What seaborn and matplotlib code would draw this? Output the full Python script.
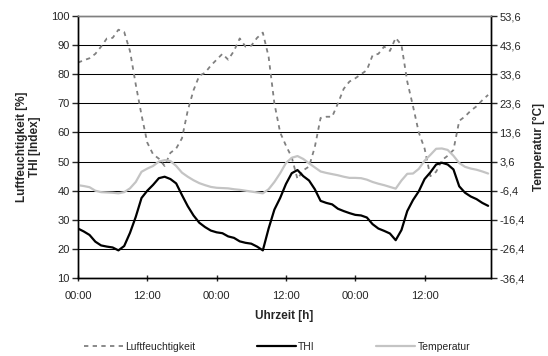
import numpy as np
import matplotlib
matplotlib.use("Agg")
import matplotlib.pyplot as plt
import seaborn as sns

sns.set_style("white")
plt.rcParams['font.family'] = ['Liberation Sans', 'DejaVu Sans']

# hourly values over three days
hours = np.arange(72)

humidity = [84.0, 84.8, 85.5, 87.0, 89.5, 92.3, 92.5, 95.3, 94.5, 88.0,
            76.5, 66.0, 56.5, 52.5, 51.0, 48.5, 53.0, 54.5, 58.0, 67.5,
            74.5, 79.5, 80.5, 83.0, 85.0, 87.0, 85.0, 88.0, 92.3, 89.5,
            89.8, 92.5, 94.3, 86.0, 70.0, 60.0, 55.5, 51.5, 44.0, 47.0,
            48.3, 55.0, 65.0, 65.4, 65.4, 70.0, 75.0, 77.5, 78.6, 80.0,
            81.4, 86.5, 87.0, 89.5, 88.0, 92.5, 90.0, 77.5, 69.0, 60.0,
            54.5, 45.0, 46.5, 50.5, 52.0, 54.0, 64.0, 65.5, 67.5, 69.0,
            71.1, 72.9]

thi = [27.0, 26.0, 24.8, 22.5, 21.2, 20.8, 20.5, 19.5, 21.0, 25.5,
       31.0, 37.5, 40.0, 42.0, 44.3, 44.8, 44.0, 42.5, 38.5, 34.7,
       31.5, 29.0, 27.5, 26.3, 25.7, 25.4, 24.3, 23.8, 22.6, 22.1,
       21.8, 20.8, 19.5, 27.0, 33.5, 37.5, 42.3, 46.0, 47.1, 45.0,
       43.5, 40.5, 36.5, 35.8, 35.3, 33.8, 33.0, 32.3, 31.7, 31.5,
       30.8, 28.5, 27.0, 26.2, 25.3, 23.0, 26.5, 33.0, 36.8, 39.8,
       44.0, 46.3, 49.0, 49.6, 49.0, 47.3, 41.5, 39.3, 38.0, 37.1,
       35.8, 34.8]

temperature = [-4.5, -4.8, -5.2, -6.4, -6.9, -7.0, -7.1, -7.3, -6.9, -5.6,
               -3.4, 0.1, 1.2, 2.1, 3.6, 4.1, 3.8, 2.1, -0.2, -1.6,
               -2.8, -3.8, -4.5, -5.1, -5.4, -5.5, -5.6, -5.9, -6.1, -6.4,
               -6.7, -7.0, -7.3, -5.9, -3.4, -0.4, 3.1, 4.9, 5.5, 4.5,
               3.0, 1.6, 0.2, -0.3, -0.7, -1.1, -1.6, -2.0, -2.0, -2.1,
               -2.6, -3.4, -4.0, -4.5, -5.1, -5.7, -2.9, -0.6, -0.5, 1.1,
               3.9, 5.9, 8.0, 8.1, 7.6, 5.6, 3.1, 1.8, 1.2, 0.8,
               0.2, -0.5]

xtick_pos = [0, 12, 24, 36, 48, 60]
xtick_labels = ["00:00", "12:00", "00:00", "12:00", "00:00", "12:00"]

fig, ax = plt.subplots(figsize=(5.48, 3.56), dpi=100)
fig.subplots_adjust(left=0.1423, right=0.896, top=0.955, bottom=0.219)
ax2 = ax.twinx()

sns.lineplot(x=hours, y=humidity, ax=ax, color='#808080', lw=1.3, legend=False)
ax.lines[-1].set_dashes([2.4, 2.4])
sns.lineplot(x=hours, y=thi, ax=ax, color='black', lw=1.6, legend=False)
sns.lineplot(x=hours, y=temperature, ax=ax2, color='#c4c4c4', lw=1.6, legend=False)

ax.set_xlim(0, 71.5)
ax.set_ylim(10, 100)
ax.set_yticks(np.arange(10, 101, 10))
ax.yaxis.grid(True, color='black', lw=0.75)
ax.set_axisbelow(True)

ax2.set_ylim(-36.4, 53.6)
rticks = np.arange(-36.4, 53.7, 10)
ax2.set_yticks(rticks)
ax2.set_yticklabels([f"{v:.1f}".replace('.', ',') for v in rticks])

ax.set_xticks(xtick_pos)
ax.set_xticklabels(xtick_labels)

ax.tick_params(axis='y', direction='out', length=4, width=1, labelsize=8, pad=2, left=True)
ax.tick_params(axis='x', direction='inout', length=5, width=1, labelsize=8, pad=7, bottom=True)
ax2.tick_params(axis='y', direction='out', length=4, width=1, labelsize=8, pad=2, right=True)

for a in (ax, ax2):
    a.spines['top'].set_color('#808080')
    a.spines['top'].set_linewidth(1)
    for s in ('left', 'right', 'bottom'):
        a.spines[s].set_color('black')
        a.spines[s].set_linewidth(1)

ax.set_xlabel("Uhrzeit [h]", fontsize=8.5, fontweight='bold', labelpad=6)
ax.set_ylabel("Luftfeuchtigkeit [%]\nTHI [Index]", fontsize=8.5, fontweight='bold', labelpad=7)
ax2.set_ylabel("Temperatur [°C]", fontsize=8.5, fontweight='bold', labelpad=6)

handles = [ax.lines[0], ax.lines[1], ax2.lines[0]]
labels = ["Luftfeuchtigkeit", "THI", "Temperatur"]
fig.legend(handles, labels, loc='center', bbox_to_anchor=(0.506, 0.026), ncol=3,
           frameon=False, fontsize=7.5, handlelength=3.7, handletextpad=0.25,
           columnspacing=5.9)

fig.savefig("out.png", dpi=100)
